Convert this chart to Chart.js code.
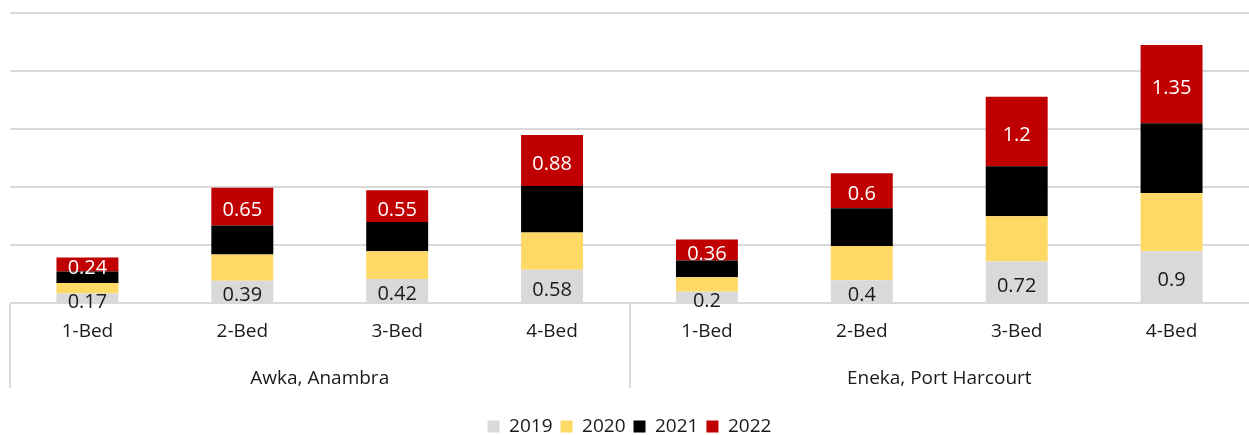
<!DOCTYPE html>
<html>
<head>
<meta charset="utf-8">
<script src="https://cdn.jsdelivr.net/npm/chart.js@4.4.1/dist/chart.umd.min.js"></script>
<style>
  html, body { margin: 0; padding: 0; background: #fff; }
  #wrap { width: 1249px; height: 435px; position: relative; }
</style>
</head>
<body>
<div id="wrap"><canvas id="rentChart"></canvas></div>
<script>
const categories = ['1-Bed', '2-Bed', '3-Bed', '4-Bed', '1-Bed', '2-Bed', '3-Bed', '4-Bed'];
const groups = ['Awka, Anambra', 'Eneka, Port Harcourt'];
const years = ['2019', '2020', '2021', '2022'];

const v2019 = [0.17, 0.39, 0.42, 0.58, 0.2, 0.4, 0.72, 0.9];
const v2020 = [0.18, 0.45, 0.48, 0.64, 0.25, 0.59, 0.78, 1.0];
const v2021 = [0.2, 0.5, 0.5, 0.8, 0.29, 0.65, 0.86, 1.2];
const v2022 = [0.24, 0.65, 0.55, 0.88, 0.36, 0.6, 1.2, 1.35];

const colors = ['#d9d9d9', '#ffd966', '#000000', '#c00000'];
const labelColors = ['#1a1a1a', null, null, '#ffffff'];  // only 2019 and 2022 are labelled
const font = 'Open Sans';
const gridColor = '#d9d9d9';

// values on the gray and red segments
const segmentLabels = {
    id: 'segmentLabels',
    afterDatasetsDraw(chart) {
        const ctx = chart.ctx;
        ctx.save();
        ctx.font = '20px "' + font + '"';
        ctx.textAlign = 'center';
        ctx.textBaseline = 'middle';
        chart.data.datasets.forEach((ds, di) => {
            if (!labelColors[di]) return;
            const meta = chart.getDatasetMeta(di);
            meta.data.forEach((bar, i) => {
                const p = bar.getProps(['x', 'y', 'base'], true);
                ctx.fillStyle = labelColors[di];
                ctx.fillText(String(ds.data[i]), p.x, (p.y + p.base) / 2 + 4);
            });
        });
        ctx.restore();
    }
};

// vertical separators at the start of each location group
const groupLines = {
    id: 'groupLines',
    afterDraw(chart) {
        const x = chart.scales.x;
        const x2 = chart.scales.x2;
        const per = categories.length / groups.length;
        const ctx = chart.ctx;
        ctx.save();
        ctx.strokeStyle = gridColor;
        ctx.lineWidth = 2;
        for (let g = 0; g < groups.length; g++) {
            const px = Math.round(x.getPixelForValue(g * per - 0.5));
            ctx.beginPath();
            ctx.moveTo(px, x.top);
            ctx.lineTo(px, x2.bottom - 21);
            ctx.stroke();
        }
        ctx.restore();
    }
};

new Chart(document.getElementById('rentChart'), {
    type: 'bar',
    data: {
        labels: categories,
        datasets: [v2019, v2020, v2021, v2022].map((d, i) => ({
            label: years[i],
            data: d,
            backgroundColor: colors[i],
            borderWidth: 0,
            barPercentage: 0.4,
            categoryPercentage: 1.0,
        }))
    },
    options: {
        responsive: true,
        maintainAspectRatio: false,
        animation: false,
        layout: { padding: { left: 10, right: 0, top: 13, bottom: -11 } },
        plugins: {
            legend: {
                position: 'bottom',
                labels: {
                    color: '#1a1a1a',
                    font: { family: font, size: 19 },
                    boxWidth: 12,
                    boxHeight: 12,
                    padding: 8,
                }
            },
            tooltip: { enabled: false }
        },
        scales: {
            x: {
                stacked: true,
                offset: true,
                grid: { display: false, drawTicks: false },
                border: { display: false },
                ticks: { color: '#1a1a1a', font: { family: font, size: 19 }, padding: 17, maxRotation: 0, autoSkip: false }
            },
            x2: {
                type: 'category',
                labels: groups,
                position: 'bottom',
                offset: true,
                grid: { display: false, drawTicks: false },
                border: { display: false },
                ticks: { color: '#1a1a1a', font: { family: font, size: 19 }, padding: 7, maxRotation: 0 },
                afterFit(scale) { scale.height += 12; }
            },
            y: {
                stacked: true,
                min: 0,
                max: 5,
                ticks: { display: false, stepSize: 1 },
                grid: { color: gridColor, lineWidth: 2, drawTicks: false },
                border: { display: false }
            }
        }
    },
    plugins: [segmentLabels, groupLines]
});
</script>
</body>
</html>
